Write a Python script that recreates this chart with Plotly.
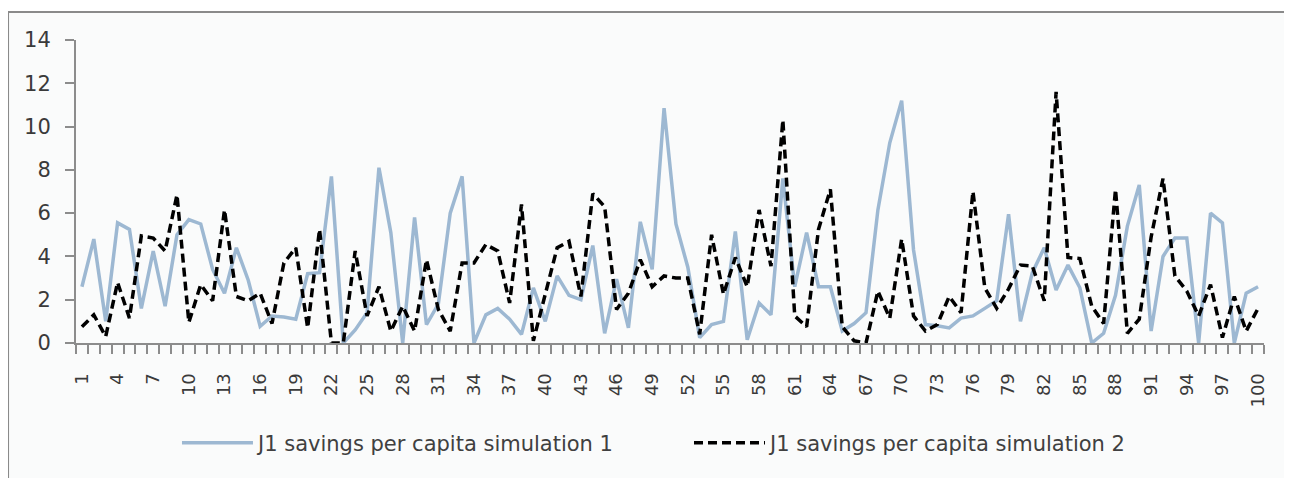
import plotly.graph_objects as go

periods = list(range(1, 101))

sim1 = [2.6, 4.8, 1.0, 5.55, 5.25, 1.6, 4.25, 1.7, 5.0, 5.7,
        5.5, 3.4, 2.3, 4.4, 2.9, 0.77, 1.25, 1.2, 1.1, 3.2,
        3.25, 7.7, 0.0, 0.6, 1.4, 8.1, 5.1, 0.0, 5.8, 0.85,
        1.8, 6.0, 7.7, 0.0, 1.3, 1.6, 1.1, 0.4, 2.55, 1.0,
        3.1, 2.2, 2.0, 4.5, 0.45, 2.95, 0.7, 5.6, 3.4, 10.85,
        5.5, 3.5, 0.25, 0.85, 1.0, 5.15, 0.15, 1.85, 1.3, 7.6,
        2.6, 5.1, 2.6, 2.6, 0.55, 0.9, 1.4, 6.15, 9.25, 11.2,
        4.3, 0.85, 0.8, 0.7, 1.15, 1.25, 1.6, 1.95, 5.95, 1.0,
        3.25, 4.4, 2.45, 3.6, 2.55, 0.0, 0.45, 2.2, 5.4, 7.3,
        0.55, 4.0, 4.85, 4.85, 0.0, 6.0, 5.55, 0.0, 2.3, 2.6]

sim2 = [0.75, 1.3, 0.3, 2.8, 1.15, 4.95, 4.85, 4.25, 6.85, 0.95,
        2.7, 1.95, 6.15, 2.15, 1.95, 2.3, 0.9, 3.7, 4.4, 0.7,
        5.25, 0.0, 0.0, 4.25, 1.25, 2.6, 0.55, 1.7, 0.55, 3.85,
        1.55, 0.55, 3.7, 3.7, 4.55, 4.25, 1.85, 6.4, 0.1, 2.2,
        4.4, 4.7, 2.15, 6.9, 6.3, 1.55, 2.3, 3.85, 2.6, 3.1,
        3.0, 3.0, 0.4, 5.0, 2.25, 3.95, 2.6, 6.15, 3.55, 10.3,
        1.25, 0.75, 5.25, 7.1, 0.75, 0.1, 0.0, 2.4, 1.15, 4.8,
        1.25, 0.55, 0.85, 2.15, 1.4, 7.0, 2.55, 1.6, 2.5, 3.6,
        3.55, 1.95, 11.6, 3.95, 3.9, 1.7, 0.9, 7.1, 0.45, 1.1,
        4.9, 7.6, 3.1, 2.4, 1.25, 2.7, 0.25, 2.15, 0.55, 1.6]

x_tick_vals = list(range(1, 101, 3))
x_tick_text = [str(v) for v in x_tick_vals]
boundaries = [i + 0.5 for i in range(0, 101)]

FONT = "DejaVu Sans"
AXIS_COL = "#8c8c8c"

fig = go.Figure()
fig.add_trace(go.Scatter(
    x=periods, y=sim1, mode="lines",
    name="J1 savings per capita simulation 1",
    line=dict(color="#9db8d2", width=3.5),
))
fig.add_trace(go.Scatter(
    x=periods, y=sim2, mode="lines",
    name="J1 savings per capita simulation 2",
    line=dict(color="#000000", width=3.5, dash="9px,5px"),
))

# chart-area frame
fig.add_shape(type="rect", xref="paper", yref="paper",
              x0=-0.0572, x1=1.2, y0=-0.6, y1=1.0924,
              fillcolor="#fafbfb", line=dict(color="#8a8a8a", width=2),
              layer="below")

# page body has an 8px margin, so the figure is offset by (8, 8)
fig.update_layout(
    width=1284, height=470,
    margin=dict(l=68, r=28, t=32, b=135, autoexpand=False),
    paper_bgcolor="#ffffff",
    plot_bgcolor="rgba(0,0,0,0)",
    font=dict(family=FONT, size=21, color="#404040"),
    showlegend=True,
    legend=dict(
        orientation="h", x=0.085, xanchor="left", y=-0.33, yanchor="middle",
        itemwidth=71, entrywidth=426, entrywidthmode="pixels",
        font=dict(family=FONT, size=21, color="#404040"),
        bgcolor="rgba(0,0,0,0)",
    ),
    xaxis=dict(
        range=[0.5, 100.5], showgrid=False, zeroline=False, automargin=False,
        showline=True, linecolor=AXIS_COL, linewidth=2,
        tickmode="array", tickvals=x_tick_vals, ticktext=x_tick_text,
        tickangle=-90, ticks="outside", ticklen=9, tickcolor="rgba(0,0,0,0)",
        ticklabelstandoff=12,
        tickfont=dict(family=FONT, size=18, color="#3a3a3a"),
        minor=dict(tickmode="array", tickvals=boundaries, ticks="outside",
                   ticklen=9, tickwidth=1.5, tickcolor=AXIS_COL, showgrid=False),
    ),
    yaxis=dict(
        range=[0, 14], dtick=2, tick0=0, showgrid=False, zeroline=False,
        automargin=False,
        showline=True, linecolor=AXIS_COL, linewidth=2,
        ticks="outside", ticklen=9, tickwidth=1.5, tickcolor=AXIS_COL,
        ticklabelstandoff=10,
        tickfont=dict(family=FONT, size=21, color="#3a3a3a"),
    ),
)

fig.write_html("out.html")
